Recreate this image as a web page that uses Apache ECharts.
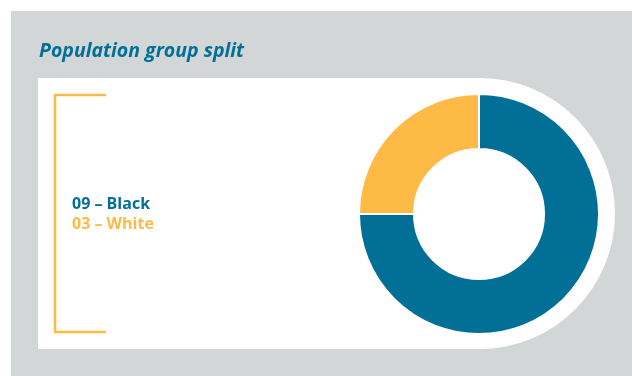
<!DOCTYPE html>
<html><head><meta charset="utf-8">
<script src="https://cdn.jsdelivr.net/npm/echarts@6/dist/echarts.min.js"></script>
<style>html,body{margin:0;padding:0;background:#fff}#c{width:632px;height:376px}</style>
</head><body><div id="c"></div>
<script>
const titleText = "Population group split";
const categories = ["Black", "White"];
const values = [9, 3];
const valueLabels = ["09", "03"];
const colors = ["#026f96", "#fdba45"];

const chart = echarts.init(document.getElementById('c'), null, {renderer: 'canvas'});
const font = '"Open Sans", "Noto Sans", sans-serif';
const labelRich = {};
const labelLines = categories.map((c, i) => {
  labelRich['s' + i] = {fill: colors[i], fontFamily: font, fontWeight: 'bold', fontSize: 16, lineHeight: 20};
  return '{s' + i + '|' + valueLabels[i] + ' – ' + c + '}';
});
chart.setOption({
  animation: false,
  title: {
    text: titleText, left: 34, top: 36,
    textStyle: {color: '#026f96', fontFamily: font, fontStyle: 'italic', fontWeight: 'bold', fontSize: 19.5}
  },
  graphic: [
    {type: 'rect', z: -10, shape: {x: 11, y: 11, width: 640, height: 380}, style: {fill: '#d3d6d7'}},
    {type: 'rect', z: -9, shape: {x: 38, y: 78, width: 442, height: 271}, style: {fill: '#fff'}},
    {type: 'circle', z: -9, shape: {cx: 479.5, cy: 213.5, r: 135.5}, style: {fill: '#fff'}},
    {type: 'polyline', z: -8, shape: {points: [[106, 95], [55, 95], [55, 332], [106, 332]]},
     style: {stroke: '#fdba45', lineWidth: 2.5, fill: null}},
    {type: 'text', z: 5, left: 72, top: 196,
     style: {text: labelLines.join('\n'), rich: labelRich}}
  ],
  series: [{
    type: 'pie',
    center: [479, 214],
    radius: [65, 120],
    startAngle: 90,
    clockwise: true,
    label: {show: false},
    labelLine: {show: false},
    emphasis: {disabled: true},
    itemStyle: {borderColor: '#fff', borderWidth: 2},
    data: categories.map((c, i) => ({name: c, value: values[i], itemStyle: {color: colors[i]}}))
  }]
});
</script></body></html>
